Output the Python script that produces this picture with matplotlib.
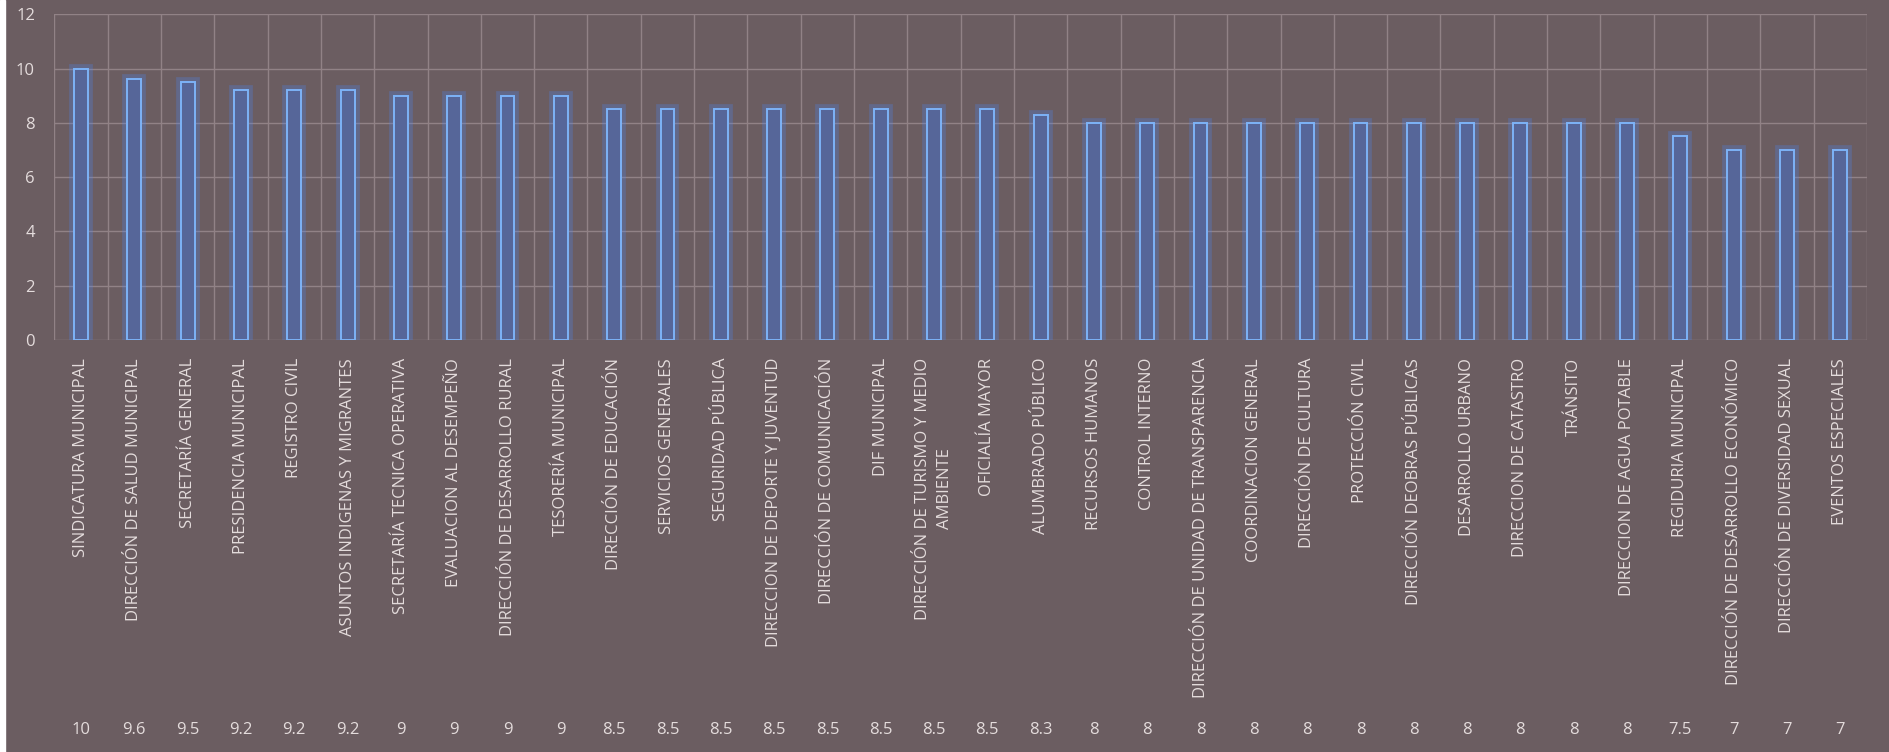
import matplotlib.pyplot as plt
import matplotlib.transforms as mtransforms
from matplotlib.patches import Rectangle
import numpy as np

# areas evaluated, in the order shown on the chart
areas = [
    "SINDICATURA MUNICIPAL", "DIRECCIÓN DE SALUD MUNICIPAL", "SECRETARÍA GENERAL",
    "PRESIDENCIA MUNICIPAL", "REGISTRO CIVIL", "ASUNTOS INDIGENAS Y MIGRANTES",
    "SECRETARÍA TECNICA OPERATIVA", "EVALUACION AL DESEMPEÑO",
    "DIRECCIÓN DE DESARROLLO RURAL", "TESORERÍA MUNICIPAL", "DIRECCIÓN DE EDUCACIÓN",
    "SERVICIOS GENERALES", "SEGURIDAD PÚBLICA", "DIRECCION DE DEPORTE Y JUVENTUD",
    "DIRECCIÓN DE COMUNICACIÓN", "DIF MUNICIPAL",
    "DIRECCIÓN DE TURISMO Y MEDIO\nAMBIENTE", "OFICIALÍA MAYOR", "ALUMBRADO PÚBLICO",
    "RECURSOS HUMANOS", "CONTROL INTERNO", "DIRECCIÓN DE UNIDAD DE TRANSPARENCIA",
    "COORDINACION GENERAL", "DIRECCIÓN DE CULTURA", "PROTECCIÓN CIVIL",
    "DIRECCIÓN DEOBRAS PÚBLICAS", "DESARROLLO URBANO", "DIRECCION DE CATASTRO",
    "TRÁNSITO", "DIRECCION DE AGUA POTABLE", "REGIDURIA MUNICIPAL",
    "DIRECCIÓN DE DESARROLLO ECONÓMICO", "DIRECCIÓN DE DIVERSIDAD SEXUAL",
    "EVENTOS ESPECIALES",
]

# calificaciones
scores = [10, 9.6, 9.5, 9.2, 9.2, 9.2, 9, 9, 9, 9,
          8.5, 8.5, 8.5, 8.5, 8.5, 8.5, 8.5, 8.5, 8.3,
          8, 8, 8, 8, 8, 8, 8, 8, 8, 8, 8, 7.5, 7, 7, 7]

y_ticks = [0, 2, 4, 6, 8, 10, 12]

bg = '#6b5d61'
grid_col = '#918286'
txt = '#e4dcdc'

plt.rcParams['font.family'] = ['Open Sans', 'DejaVu Sans']

fig = plt.figure(figsize=(18.89, 7.52), dpi=100, facecolor=bg)
ax = fig.add_axes([0.0288, 0.548, 0.9595, 0.433])
ax.set_facecolor(bg)

x = np.arange(len(areas))
# glow behind the bars
ax.bar(x, scores, width=0.26, color='none', edgecolor=(0.30, 0.52, 0.95, 0.28),
       linewidth=7, zorder=2)
ax.bar(x, scores, width=0.26, color='#566699', edgecolor='#7db3f7',
       linewidth=1.4, zorder=3)

ax.set_xlim(-0.5, len(areas) - 0.5)
ax.set_ylim(0, 12)
ax.set_yticks(y_ticks)
ax.set_yticklabels([str(t) for t in y_ticks], fontsize=12, color=txt)

ax.set_xticks(x)
ax.set_xticklabels(areas, rotation=90, fontsize=12, color=txt,
                   ha='center', va='top', multialignment='center',
                   linespacing=1.45)
ax.set_xticks(np.arange(-0.5, len(areas)), minor=True)

ax.grid(axis='y', color=grid_col, linewidth=1, zorder=0)
ax.grid(axis='x', which='minor', color=grid_col, linewidth=1, zorder=0)
ax.tick_params(axis='both', which='both', length=0)
ax.tick_params(axis='y', pad=14)
ax.tick_params(axis='x', pad=13)
for s in ax.spines.values():
    s.set_visible(False)

# fila de valores (tabla de datos)
trans = mtransforms.blended_transform_factory(ax.transData, fig.transFigure)
for xi, v in zip(x, scores):
    ax.text(xi, 0.029, f'{v:g}', transform=trans, ha='center', va='center',
            fontsize=12, color=txt)

# borde blanco del escaneo
fig.patches.append(Rectangle((0, 0), 0.0028, 1, transform=fig.transFigure,
                             color='white', zorder=10))

plt.savefig("out.png", dpi=100, facecolor=bg)
